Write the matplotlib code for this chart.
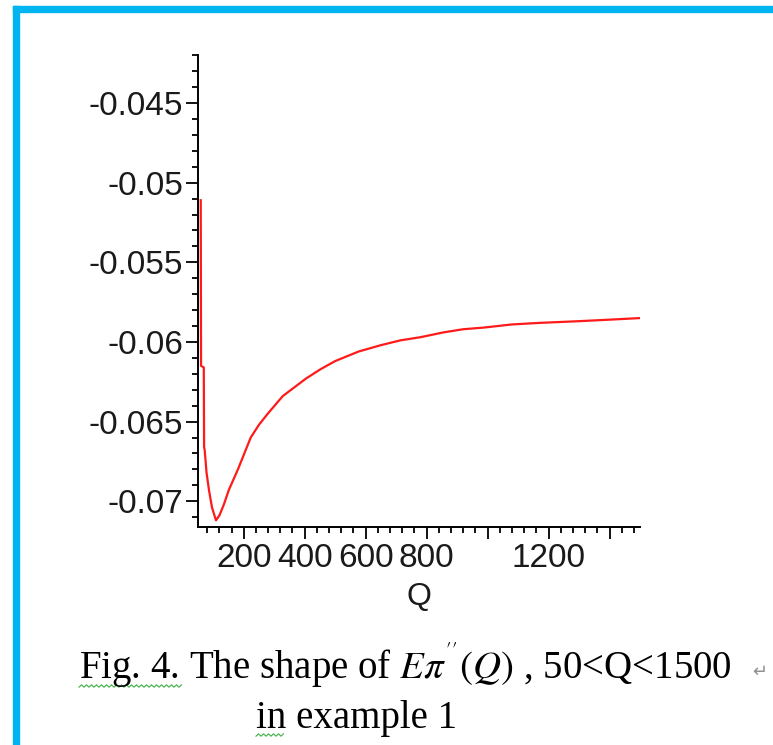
import numpy as np
import matplotlib.pyplot as plt
from matplotlib.patches import Rectangle
from matplotlib.lines import Line2D
from matplotlib.ticker import MultipleLocator, FixedLocator

# values (Q, second derivative of expected profit)
Q = [59, 60, 69, 70, 72, 78, 86, 96, 109, 120, 135, 151, 181, 223, 250, 279,
     328, 404, 453, 500, 577, 650, 714, 780, 855, 920, 986, 1080, 1173, 1294,
     1400, 1500]
E = [-0.0511, -0.0615, -0.0616, -0.0666, -0.0668, -0.0682, -0.0693, -0.0704,
     -0.0712, -0.0709, -0.0702, -0.0693, -0.0680, -0.0660, -0.0652, -0.0645,
     -0.0634, -0.0623, -0.0617, -0.0612, -0.0606, -0.0602, -0.0599, -0.0597,
     -0.0594, -0.0592, -0.0591, -0.0589, -0.0588, -0.0587, -0.0586, -0.0585]

xticks = [200, 400, 600, 800, 1000, 1200, 1400]
xlabels = ['200', '400', '600', '800', '', '1200', '']
yticks = [-0.07, -0.065, -0.06, -0.055, -0.05, -0.045]
ylabels = ['-0.07', '-0.065', '-0.06', '-0.055', '-0.05', '-0.045']

W, H = 773, 745
fig = plt.figure(figsize=(W / 100, H / 100), dpi=100)

# blue frame of the screenshot
blue = '#00b4f0'
fig.patches.append(Rectangle((13 / W, 0), 6 / W, 1 - 6 / H, transform=fig.transFigure,
                             color=blue, zorder=0))
fig.patches.append(Rectangle((13 / W, 1 - 12 / H), 1 - 13 / W, 6 / H,
                             transform=fig.transFigure, color=blue, zorder=0))

ax = fig.add_axes([198 / W, 1 - 526.7 / H, 442 / W, 471.4 / H])
ax.plot(Q, E, color='#ff1a1a', lw=1.6)

ax.set_xlim(50, 1500)
ax.set_ylim(-0.0716, -0.042)
for s in ['top', 'right']:
    ax.spines[s].set_visible(False)
for s in ['left', 'bottom']:
    ax.spines[s].set_linewidth(1.4)

ax.xaxis.set_major_locator(FixedLocator(xticks))
ax.set_xticklabels(xlabels)
ax.xaxis.set_minor_locator(MultipleLocator(40))
ax.yaxis.set_major_locator(FixedLocator(yticks))
ax.set_yticklabels(ylabels)
ax.yaxis.set_minor_locator(MultipleLocator(0.001))

tick_font = 'Liberation Sans'
ax.tick_params(which='major', length=8.5, width=1.3, labelsize=24, color='black',
               labelcolor='#1a1a1a')
ax.tick_params(which='minor', length=4.5, width=1.3, color='black')
ax.tick_params(axis='x', which='major', pad=3)
ax.tick_params(axis='y', which='major', pad=2)
for lab in ax.get_xticklabels() + ax.get_yticklabels():
    lab.set_fontfamily(tick_font)
ax.set_xlabel('Q', fontsize=23, fontfamily=tick_font, color='#1a1a1a', labelpad=6)

# caption under the chart
plt.rcParams['mathtext.fontset'] = 'stix'
serif = 'Liberation Serif'
fig.text(79 / W, 1 - 679 / H, r"Fig. 4. The shape of $E\pi^{''}(Q)$ , 50<Q<1500",
         fontsize=28, fontfamily=serif, va='baseline', ha='left', color='black')
fig.text(752 / W, 1 - 677 / H, '\u21b5', fontsize=13, fontfamily='DejaVu Sans',
         va='baseline', ha='left', color='#909090')
fig.text(256 / W, 1 - 728 / H, 'in example 1', fontsize=28, fontfamily=serif,
         va='baseline', ha='left', color='black')

# spell-check squiggles
green = '#3cb043'
for x0, x1, y in [(79, 182, 686), (256, 283, 735)]:
    xs = np.arange(x0, x1 + 1, 2.5)
    ys = y + np.where(np.arange(len(xs)) % 2 == 0, 1.2, -1.2)
    fig.lines.append(Line2D(xs / W, 1 - ys / H, transform=fig.transFigure,
                            color=green, lw=0.8))

fig.savefig('out.png', dpi=100)
